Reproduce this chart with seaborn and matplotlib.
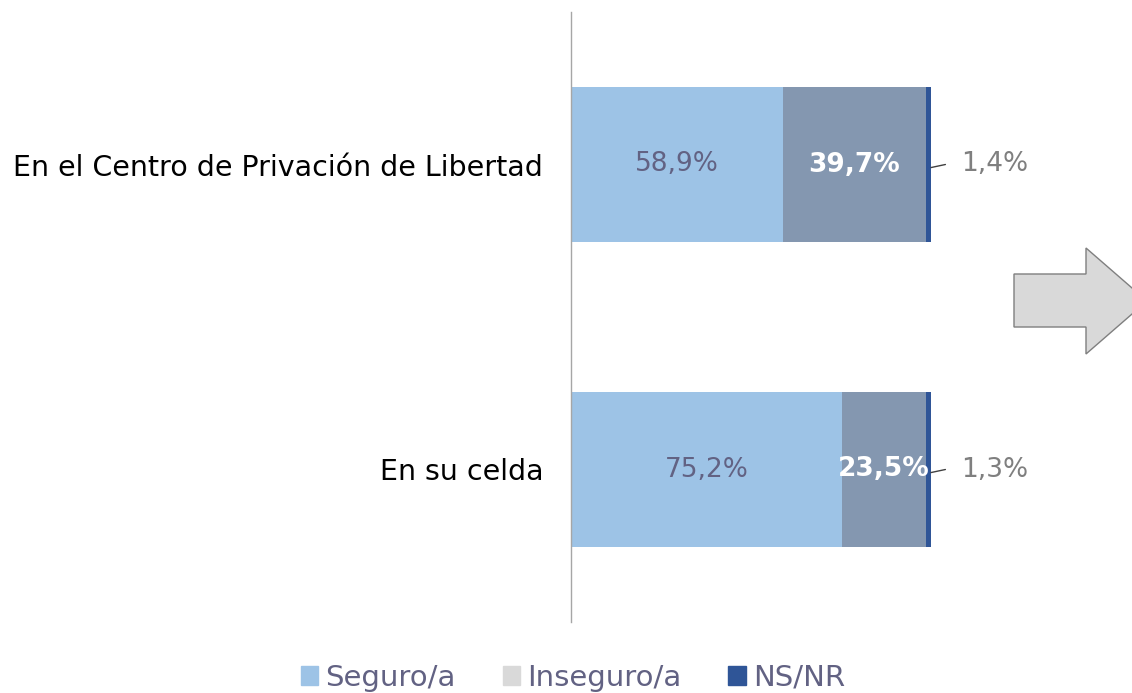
import pandas as pd
import matplotlib.pyplot as plt
import seaborn as sns
from matplotlib.patches import Patch, Polygon


categories = ['En el Centro de Privación de Libertad', 'En su celda']
seguro = [58.9, 75.2]
inseguro = [39.7, 23.5]
nsnr = [1.4, 1.3]
series_names = ['Seguro/a', 'Inseguro/a', 'NS/NR']

data = pd.DataFrame({'categoria': categories, 'seguro': seguro,
                     'inseguro': inseguro, 'nsnr': nsnr})
data['c_ins'] = data['seguro'] + data['inseguro']
data['c_tot'] = data['c_ins'] + data['nsnr']

c_seg = '#9DC3E6'
c_ins = '#8497B0'
c_ns = '#2F5597'
c_leg_ins = '#D9D9D9'
txt_dark = '#626283'

sns.set_style('white')
plt.rcParams['font.family'] = ['DejaVu Sans']

W, H = 1132, 693
fig = plt.figure(figsize=(W / 100, H / 100), dpi=100)
ax = fig.add_axes([571 / W, (H - 622) / H, (W - 571) / W, 610 / H])

# stacked bars: draw cumulative totals back to front
sns.barplot(data=data, x='c_tot', y='categoria', color=c_ns, width=0.51,
            orient='h', ax=ax, saturation=1, linewidth=0)
sns.barplot(data=data, x='c_ins', y='categoria', color=c_ins, width=0.51,
            orient='h', ax=ax, saturation=1, linewidth=0)
sns.barplot(data=data, x='seguro', y='categoria', color=c_seg, width=0.51,
            orient='h', ax=ax, saturation=1, linewidth=0)

ax.set_xlim(0, (W - 571) / 3.6)
ax.set_ylim(1.5, -0.5)
ax.set_xlabel('')
ax.set_ylabel('')
ax.set_xticks([])
for s in ['top', 'right', 'bottom']:
    ax.spines[s].set_visible(False)
ax.spines['left'].set_color('#A6A6A6')
ax.spines['left'].set_linewidth(1)
ax.tick_params(axis='y', length=0, pad=20, labelsize=20.5, labelcolor='black')

fmt = lambda v: f'{v:.1f}%'.replace('.', ',')
for i, row in data.iterrows():
    ax.text(row['seguro'] / 2, i, fmt(row['seguro']), ha='center', va='center',
            fontsize=19, color=txt_dark)
    ax.text(row['seguro'] + row['inseguro'] / 2, i, fmt(row['inseguro']),
            ha='center', va='center', fontsize=19, color='white', fontweight='bold')
    ax.plot([row['c_tot'], row['c_tot'] + 4], [i + 0.01, i], color='#404040', lw=1)
    ax.text(row['c_tot'] + 8.5, i, fmt(row['nsnr']), ha='left', va='center',
            fontsize=19, color='#7F7F7F')

# decorative arrow on the right
pts = [(1014, 274), (1086, 274), (1086, 248), (1147, 301),
       (1086, 354), (1086, 327), (1014, 327)]
arrow = Polygon([(x / W, 1 - y / H) for x, y in pts], closed=True,
                transform=fig.transFigure, facecolor='#D9D9D9',
                edgecolor='#7F7F7F', lw=1)
fig.patches.append(arrow)

handles = [Patch(color=c_seg), Patch(color=c_leg_ins), Patch(color=c_ns)]
leg = fig.legend(handles, series_names, loc='center', bbox_to_anchor=(573 / W, 1 - 678 / H),
                 ncol=3, frameon=False, fontsize=21, handlelength=0.6,
                 handleheight=0.6, handletextpad=0.25, columnspacing=1.6)
for t in leg.get_texts():
    t.set_color(txt_dark)

fig.savefig('out.png', dpi=100)
